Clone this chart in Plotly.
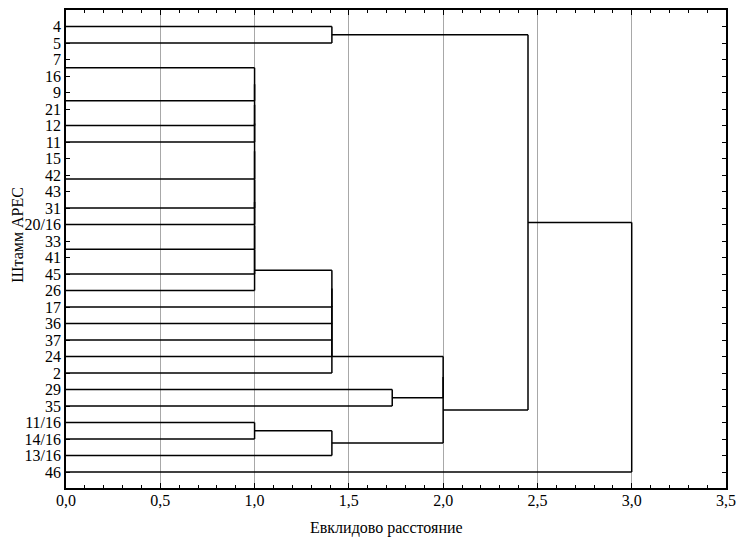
import plotly.graph_objects as go

# leaves of the tree, top to bottom
leaf_labels = ["4", "5", "7", "16", "9", "21", "12", "11", "15", "42", "43",
               "31", "20/16", "33", "41", "45", "26", "17", "36", "37", "24",
               "2", "29", "35", "11/16", "14/16", "13/16", "46"]

# merge steps, linkage style: ids >= len(leaf_labels) refer to earlier merges
merge_a = [2, 4, 8, 30, 13, 28, 33, 34, 35, 36, 37, 38, 39, 40, 24,
           41, 43, 44, 45, 46, 0, 42, 22, 47, 51, 48, 53]
merge_b = [3, 5, 9, 10, 14, 29, 6, 7, 31, 11, 12, 32, 15, 16, 25,
           17, 18, 19, 20, 21, 1, 26, 23, 50, 49, 52, 27]
merge_dist = [0, 0, 0, 0, 0, 1.0, 1.0, 1.0, 1.0, 1.0, 1.0, 1.0, 1.0, 1.0, 1.0,
              1.41, 1.41, 1.41, 1.41, 1.41, 1.41, 1.41, 1.73, 2.0, 2.0, 2.45, 3.0]

pos = list(range(len(leaf_labels)))
hgt = [0.0] * len(leaf_labels)
xs, ys = [], []
for a, b, d in zip(merge_a, merge_b, merge_dist):
    for c in (a, b):
        if d > hgt[c]:
            xs += [hgt[c], d, None]
            ys += [pos[c], pos[c], None]
    if d > 0:
        xs += [d, d, None]
        ys += [pos[a], pos[b], None]
    pos.append((pos[a] + pos[b]) / 2)
    hgt.append(d)

font = "Liberation Serif, Times New Roman, serif"

fig = go.Figure(go.Scatter(
    x=xs, y=ys, mode="lines",
    line=dict(color="black", width=1.5),
    hoverinfo="skip", showlegend=False
))

# page body has an 8px margin, so the figure is shrunk and shifted to fit
fig.update_layout(
    width=736, height=530,
    margin=dict(l=58, r=18, t=0, b=50),
    paper_bgcolor="white", plot_bgcolor="white",
    separators=", ",
    font=dict(family=font, size=16, color="black"),
)

# axis titles as annotations so they can sit where the original has them
fig.add_annotation(text="Евклидово расстояние", x=0.486, y=-0.084,
                   xref="paper", yref="paper", xanchor="center", yanchor="middle",
                   showarrow=False, font=dict(size=16))
fig.add_annotation(text="Штамм АРЕС", x=-0.0727, y=0.53, textangle=-90,
                   xref="paper", yref="paper", xanchor="center", yanchor="middle",
                   showarrow=False, font=dict(size=16))

fig.update_xaxes(
    range=[0, 3.5], dtick=0.5, tickformat=".1f",
    showgrid=True, gridcolor="#a8a8a8", gridwidth=1,
    zeroline=False,
    showline=True, linecolor="black", linewidth=1.5, mirror="ticks",
    ticks="inside", ticklen=5, tickcolor="black",
    ticklabelstandoff=-3,
    minor=dict(dtick=0.1, ticks="inside", ticklen=3, tickcolor="black", showgrid=False),
)

fig.update_yaxes(
    range=[27.97, -1],
    tickmode="array", tickvals=list(range(len(leaf_labels))), ticktext=leaf_labels,
    showgrid=False, zeroline=False,
    showline=True, linecolor="black", linewidth=1.5, mirror="ticks",
    ticks="inside", ticklen=4, tickcolor="black",
    ticklabelstandoff=0,
)

fig.write_html("out.html")
